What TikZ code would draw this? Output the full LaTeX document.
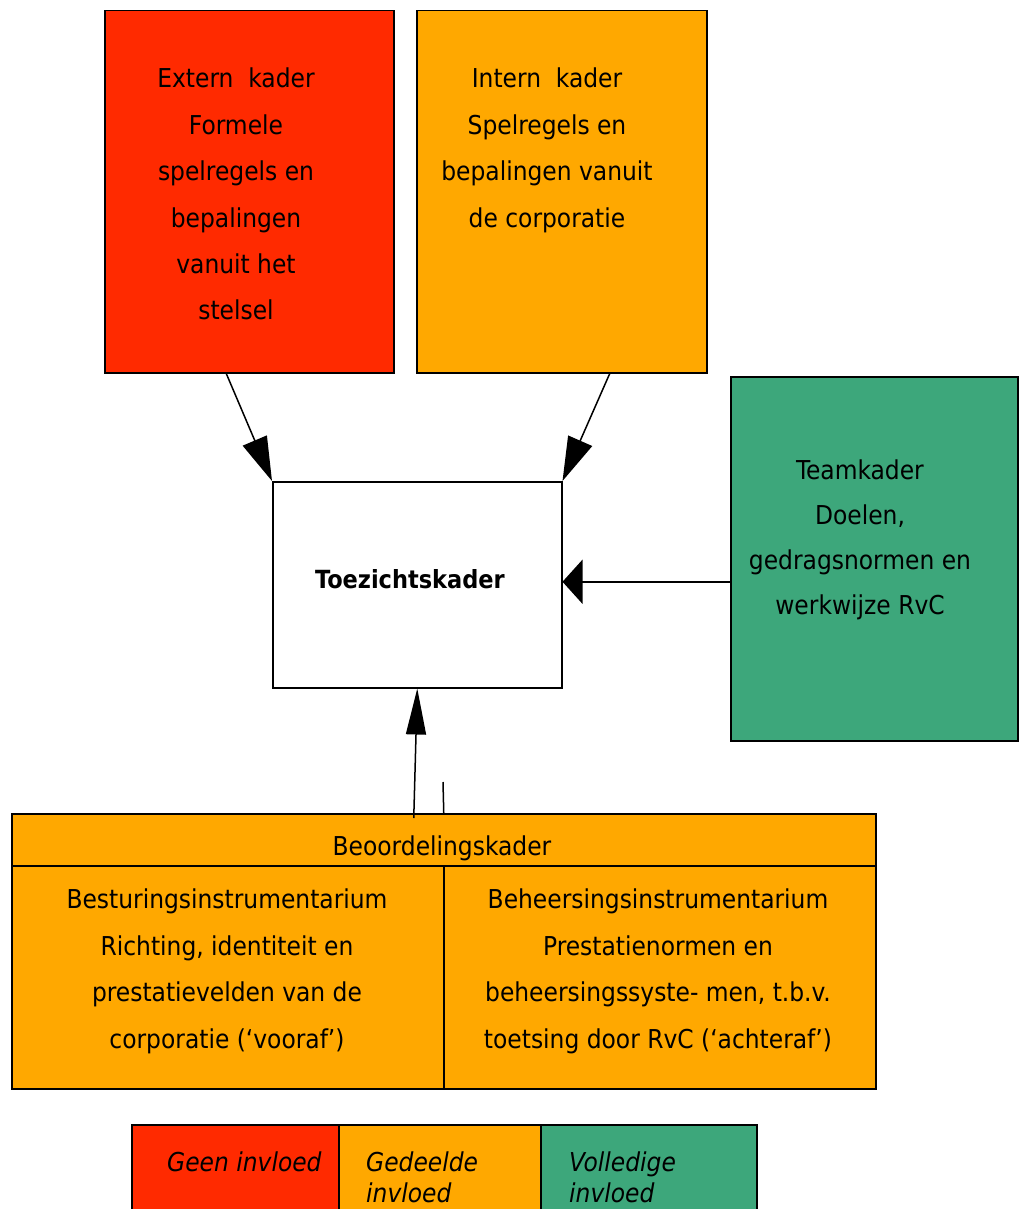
\documentclass[tikz,border=0pt]{standalone}
\usepackage{fontspec}
\setmainfont{DejaVu Sans Condensed}
\usetikzlibrary{arrows.meta,positioning}

\definecolor{kaderrood}{HTML}{FF2A00}
\definecolor{kaderoranje}{HTML}{FFA800}
\definecolor{kadergroen}{HTML}{3DA77B}

\tikzset{
	kader/.style={draw=black, line width=1.5pt, rectangle, inner sep=0pt, anchor=north west},
	kadertekst/.style={align=center, inner sep=0pt, anchor=north, font=\fontsize{26}{46.4}\selectfont},
	legendatekst/.style={align=left, inner sep=0pt, anchor=north west, font=\fontsize{26}{31}\selectfont\itshape},
	pijl/.style={line width=1.5pt, -{Triangle[length=44pt,width=26pt]}},
}

\begin{document}
\begin{tikzpicture}[x=1pt,y=-1pt]
	\useasboundingbox (0,0) rectangle (1018,1209);
	% kaders bovenaan
	\node[kader, fill=kaderrood, minimum width=289pt, minimum height=362pt] (extern) at (104,10) {};
	\node[kader, fill=kaderoranje, minimum width=290pt, minimum height=362pt] (intern) at (416,10) {};
	\node[kader, fill=kadergroen, minimum width=287pt, minimum height=364pt] (team) at (730,376) {};
	\node[kader, fill=white, minimum width=289pt, minimum height=206pt] (toezicht) at (272,481) {};
	\node[kadertekst] (externtekst) at (236,68) {Extern\ \ kader\\Formele\\spelregels en\\bepalingen\\vanuit het\\stelsel};
	\node[kadertekst] (interntekst) at (547,68) {Intern\ \ kader\\Spelregels en\\bepalingen vanuit\\de corporatie};
	\node[kadertekst, font=\fontsize{26}{45}\selectfont] (teamtekst) at (860,460) {Teamkader\\Doelen,\\gedragsnormen en\\werkwijze RvC};
	\node[kadertekst, anchor=base, font=\fontsize{25}{46.4}\selectfont\bfseries] (toezichttekst) at (410,588) {Toezichtskader};
	% beoordelingskader
	\node[kader, fill=kaderoranje, minimum width=864pt, minimum height=275pt] (beoordeling) at (11,813) {};
	\draw[line width=1.5pt] ([yshift=-53pt]beoordeling.north west) -- ([yshift=-53pt]beoordeling.north east);
	\draw[line width=1.5pt] ([yshift=-53pt]beoordeling.north) -- (beoordeling.south);
	\node[kadertekst, anchor=base] (beoordelingtekst) at (442,855) {Beoordelingskader};
	\node[kadertekst] (besturing) at (227,889) {Besturingsinstrumentarium\\Richting, identiteit en\\prestatievelden van de\\corporatie (‘vooraf’)};
	\node[kadertekst] (beheersing) at (658,889) {Beheersingsinstrumentarium\\Prestatienormen en\\beheersingssyste- men, t.b.v.\\toetsing door RvC (‘achteraf’)};
	% pijlen
	\draw[pijl] ([xshift=-23pt]extern.south) -- (toezicht.north west);
	\draw[pijl] ([xshift=48pt]intern.south) -- (toezicht.north east);
	\draw[line width=1.5pt, -{Triangle[length=20pt,width=44pt]}] ([yshift=3pt]team.west |- toezicht.east) -- ([yshift=3pt]toezicht.east);
	\draw[line width=1.5pt, -{Triangle[length=46pt,width=20pt]}] ([xshift=-30pt,yshift=-5pt]beoordeling.north) -- (toezicht.south);
	\coordinate (stomp) at (443,782);
	\draw[line width=1.5pt] (stomp) -- (beoordeling.north);
	% legenda
	\node[kader, fill=kaderrood, minimum width=207pt, minimum height=100pt] (geen) at (131,1124) {};
	\node[kader, fill=kaderoranje, minimum width=202pt, minimum height=100pt] (gedeeld) at (338,1124) {};
	\node[kader, fill=kadergroen, minimum width=216pt, minimum height=100pt] (volledig) at (540,1124) {};
	\node[legendatekst] (geentekst) at (167,1152) {Geen invloed};
	\node[legendatekst] (gedeeldtekst) at (366,1152) {Gedeelde\\invloed};
	\node[legendatekst] (volledigtekst) at (569,1152) {Volledige\\invloed};
\end{tikzpicture}
\end{document}
